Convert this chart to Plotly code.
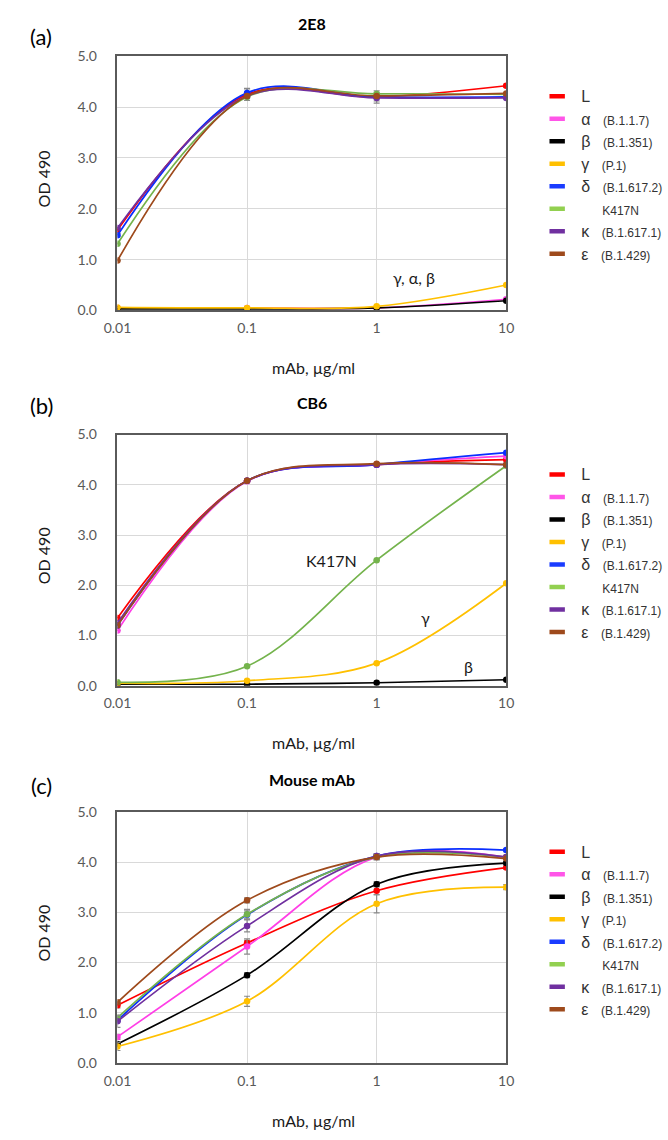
import math
import plotly.graph_objects as go

# ---------------- data ----------------
conc = [0.01, 0.1, 1, 10]
conc_labels = ["0.01", "0.1", "1", "10"]
od_ticks = [0, 1, 2, 3, 4, 5]
od_tick_labels = ["0.0", "1.0", "2.0", "3.0", "4.0", "5.0"]

variants = ["L", "α", "β", "γ", "δ", "K417N", "κ", "ε"]
lineages = ["", "(B.1.1.7)", "(B.1.351)", "(P.1)", "(B.1.617.2)", "", "(B.1.617.1)", "(B.1.429)"]

panel_titles = ["2E8", "CB6", "Mouse mAb"]
panel_tags = ["(a)", "(b)", "(c)"]

# OD 490 per variant (order as in `variants`) at conc 0.01, 0.1, 1, 10
od_2e8 = [
    [1.58, 4.25, 4.20, 4.42],  # L
    [0.05, 0.05, 0.05, 0.22],  # α
    [0.03, 0.03, 0.05, 0.19],  # β
    [0.06, 0.05, 0.08, 0.50],  # γ
    [1.48, 4.28, 4.20, 4.20],  # δ
    [1.31, 4.20, 4.26, 4.25],  # K417N
    [1.62, 4.22, 4.18, 4.18],  # κ
    [0.98, 4.22, 4.22, 4.27],  # ε
]
od_cb6 = [
    [1.35, 4.08, 4.40, 4.50],
    [1.10, 4.07, 4.40, 4.57],
    [0.03, 0.03, 0.06, 0.12],
    [0.05, 0.10, 0.45, 2.04],
    [1.20, 4.08, 4.40, 4.64],
    [0.07, 0.39, 2.50, 4.38],
    [1.25, 4.08, 4.40, 4.40],
    [1.20, 4.08, 4.42, 4.40],
]
od_mouse = [
    [1.15, 2.39, 3.43, 3.89],
    [0.52, 2.32, 4.10, 4.10],
    [0.38, 1.75, 3.56, 3.98],
    [0.33, 1.23, 3.17, 3.50],
    [0.85, 2.95, 4.12, 4.24],
    [0.90, 2.96, 4.10, 4.10],
    [0.83, 2.73, 4.12, 4.10],
    [1.21, 3.24, 4.10, 4.07],
]

# error bars (SD)
err_2e8 = [
    [0.03, 0.12, 0.12, 0.03],
    [0, 0, 0, 0], [0, 0, 0, 0], [0, 0, 0, 0],
    [0.03, 0.08, 0.08, 0.03],
    [0, 0, 0, 0], [0, 0, 0, 0], [0, 0, 0, 0],
]
err_cb6 = [[0, 0, 0, 0] for _ in range(8)]
err_mouse = [
    [0.05, 0.05, 0.08, 0.03],
    [0.05, 0.15, 0.05, 0.03],
    [0.03, 0.05, 0.05, 0.03],
    [0.08, 0.10, 0.18, 0.05],
    [0.03, 0.08, 0.05, 0.03],
    [0.05, 0.10, 0.05, 0.03],
    [0.12, 0.12, 0.05, 0.03],
    [0.03, 0.05, 0.05, 0.03],
]

# ---------------- styles ----------------
line_colors = ["#FF0000", "#FF3FE6", "#000000", "#FFC000", "#0A2EFF", "#74B34C", "#7030A0", "#9E4A1C"]
legend_colors = ["#FF0000", "#FF55E8", "#000000", "#FFC000", "#1A3CFF", "#92D050", "#7030A0", "#9E4A1C"]

W, H = 668, 1140
PLOT_L, PLOT_R = 107, 509
PLOT_TOPS = [48, 432, 815]
PLOT_BOTS = [306, 687, 1070]

def px_x(x):
    return x / W

def px_y(y):
    return 1 - y / H

FONT = "Lato, 'Open Sans', sans-serif"
LEG_FONT = "'Liberation Sans', Arial, sans-serif"
NB = "\u00a0"

def legend_name(j):
    if variants[j] == "K417N":
        return NB * 6 + '<span style="font-size:12px">K417N</span>'
    s = NB + '<span style="font-size:16px">%s</span>' % variants[j]
    if lineages[j]:
        s += NB * 3 + '<span style="font-size:12px">%s</span>' % lineages[j]
    return s

panels = [(od_2e8, err_2e8), (od_cb6, err_cb6), (od_mouse, err_mouse)]

fig = go.Figure()
layout_axes = {}
legends = {}
annotations = []

for p, (od, err) in enumerate(panels):
    sfx = "" if p == 0 else str(p + 1)
    xa, ya = "x" + sfx, "y" + sfx
    leg = "legend" + sfx
    for j in range(len(variants)):
        fig.add_trace(go.Scatter(
            x=conc, y=od[j], mode="lines+markers",
            line=dict(color=line_colors[j], width=1.7, shape="spline", smoothing=1),
            marker=dict(size=6.5, color=line_colors[j]),
            error_y=dict(type="data", array=err[j], visible=True,
                         color="#8a8a8a", thickness=1.2, width=3),
            xaxis=xa, yaxis=ya, showlegend=False, name=variants[j],
        ))
    for j in range(len(variants)):
        fig.add_trace(go.Scatter(
            x=[None], y=[None], mode="markers",
            marker=dict(symbol="line-ew", size=11,
                        line=dict(width=4.5, color=legend_colors[j])),
            name=legend_name(j), legend=leg, xaxis=xa, yaxis=ya, showlegend=True,
        ))

    top, bot = PLOT_TOPS[p], PLOT_BOTS[p]
    layout_axes["xaxis" + sfx] = dict(
        type="log", range=[-2, 1], domain=[px_x(PLOT_L), px_x(PLOT_R)],
        anchor=ya, tickvals=conc, ticktext=conc_labels,
        showgrid=True, gridcolor="#D9D9D9", gridwidth=1,
        showline=True, linecolor="#5a5a5a", linewidth=1.5, mirror=True,
        ticks="outside", ticklen=4, tickcolor="rgba(0,0,0,0)",
        tickfont=dict(family=FONT, size=14, color="#595959"),
        zeroline=False, fixedrange=True,
    )
    layout_axes["yaxis" + sfx] = dict(
        range=[0, 5], domain=[px_y(bot), px_y(top)], anchor=xa,
        tickvals=od_ticks, ticktext=od_tick_labels,
        showgrid=True, gridcolor="#D9D9D9", gridwidth=1,
        showline=True, linecolor="#5a5a5a", linewidth=1.5, mirror=True,
        ticks="outside", ticklen=16, tickcolor="rgba(0,0,0,0)",
        tickfont=dict(family=FONT, size=14, color="#595959"),
        zeroline=False, fixedrange=True,
    )
    legends[leg] = dict(
        x=px_x(541), xanchor="left", y=px_y(top + 24), yanchor="top",
        bgcolor="rgba(0,0,0,0)", borderwidth=0,
        font=dict(family=LEG_FONT, size=15, color="#333333"),
        traceorder="normal", itemclick=False, itemdoubleclick=False,
    )
    cx = (PLOT_L + PLOT_R) / 2
    annotations += [
        dict(text=panel_tags[p], x=px_x(28), y=px_y([28, 403, 788][p]),
             xref="paper", yref="paper", showarrow=False,
             font=dict(family=FONT, size=22, color="#000000"), xanchor="center", yanchor="middle"),
        dict(text="<b>%s</b>" % panel_titles[p], x=px_x(cx), y=px_y(top - 33),
             xref="paper", yref="paper", showarrow=False,
             font=dict(family=FONT, size=16, color="#000000"), xanchor="center", yanchor="middle"),
        dict(text="OD 490", x=px_x(30), y=px_y((top + bot) / 2 - 4),
             xref="paper", yref="paper", showarrow=False, textangle=-90,
             font=dict(family=FONT, size=16, color="#1a1a1a"), xanchor="center", yanchor="middle"),
        dict(text="mAb, µg/ml", x=px_x(cx + 2), y=px_y(bot + 58),
             xref="paper", yref="paper", showarrow=False,
             font=dict(family=FONT, size=16, color="#1a1a1a"), xanchor="center", yanchor="middle"),
    ]

# in-plot labels
inplot = [
    ("x", "y", "γ, α, β", 1.95, 0.64),
    ("x2", "y2", "K417N", 0.45, 2.49),
    ("x2", "y2", "γ", 2.4, 1.35),
    ("x2", "y2", "β", 5.1, 0.39),
]
for xr, yr, txt, xv, yv in inplot:
    annotations.append(dict(text=txt, x=math.log10(xv), y=yv, xref=xr, yref=yr,
                            showarrow=False, font=dict(family=FONT, size=16, color="#1a1a1a")))

fig.update_layout(
    width=W, height=H, autosize=False,
    margin=dict(l=0, r=0, t=0, b=0),
    paper_bgcolor="white", plot_bgcolor="white",
    annotations=annotations, hovermode=False,
    **layout_axes, **legends,
)

fig.write_html("out.html")
